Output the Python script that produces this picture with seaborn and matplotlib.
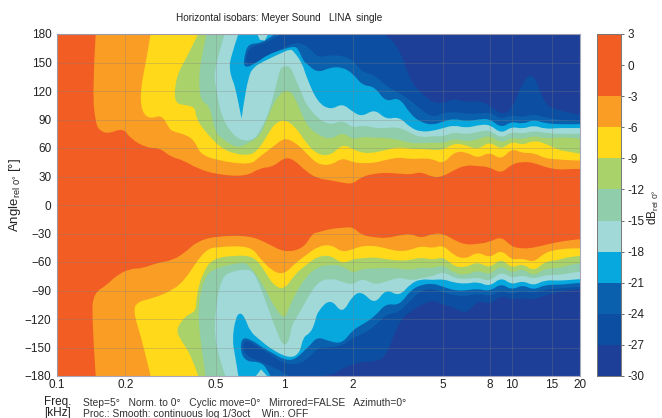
import matplotlib
matplotlib.use("Agg")
import matplotlib.pyplot as plt
from matplotlib.colors import ListedColormap
from matplotlib.patches import PathPatch
from matplotlib.path import Path
from matplotlib.ticker import NullLocator
import numpy as np
import seaborn as sns

# band colours, -30 dB up to +3 dB
BAND_COLORS = ["#1E3F97", "#0B4EA2", "#0B60AE", "#07A8DE", "#A0D9D8", "#8FCDAB",
               "#A9D26B", "#FFD91A", "#F99D25", "#F15D22", "#F15D22"]
BAND_MID = [1.5, -1.5, -4.5, -7.5, -10.5, -13.5, -16.5, -19.5, -22.5, -25.5, -28.5]
CBAR_TICKS = [3, 0, -3, -6, -9, -12, -15, -18, -21, -24, -27, -30]
X_TICKS = [0.1, 0.2, 0.5, 1, 2, 5, 8, 10, 15, 20]
X_LABELS = ["0.1", "0.2", "0.5", "1", "2", "5", "8", "10", "15", "20"]
Y_TICKS = list(range(-180, 181, 30))

# frequencies shared by all isobars above 1.3 kHz
F_HI = [1.4, 1.6, 1.8, 2, 2.2, 2.5, 2.8, 3.2, 3.6, 4, 4.5, 5, 5.6, 6.3, 7.1, 8, 9, 10,
        11.2, 12.5, 14, 16, 18, 20]

# upper half, isobar angle
UP3_F = [.148, .143, .148, .155, .168, .196, .21, .248, .284, .314, .36, .41, .503, .68, .78, .89, 1.0, 1.1, 1.25]
UP3_A = [180, 120, 85, 78, 75, 81, 70, 60, 60, 51, 47, 39, 32, 30, 39, 40, 50, 48, 35]
UP3_HI = [28, 26, 23.5, 22, 30, 33, 34, 33, 32, 35, 29, 30, 37, 42, 41, 40, 33, 43, 45.6, 44.5, 40, 37, 38, 38]

UP6_F = [.258, .248, .232, .236, .256, .29, .31, .325, .37, .405, .425, .503, .71, .78, .89, 1.0, 1.12, 1.25]
UP6_A = [180, 154, 120, 98, 90.5, 95, 81, 77, 74, 67, 54, 47, 42, 51, 61, 71, 65.7, 54.6]
UP6_HI = [42.8, 41.8, 49.6, 45, 43.8, 44.4, 47.5, 50.3, 48.2, 49, 48.5, 43, 56, 56, 49, 56, 47.4, 59.6, 54.4, 55, 49, 48, 47, 46.8]

UP9_F = [.418, .37, .345, .33, .33, .37, .405, .41, .44, .487, .53, .597, .71, .78, .86, .91, 1.0, 1.12, 1.25]
UP9_A = [180, 154, 142, 126, 107, 105, 103, 91, 80, 68, 60, 54, 52, 60, 77, 86, 90, 82.5, 65]
UP9_HI = [53, 52, 64, 59, 54.6, 55, 58, 61, 59, 59, 58, 58, 65, 63, 58, 67, 58, 67, 63, 68, 65, 58, 56, 54]

UP12_F = [.455, .43, .42, .43, .47, .495, .53, .617, .68, .78, .84, .9, .96, 1.0, 1.06, 1.12, 1.25]
UP12_A = [180, 154, 130, 109, 105, 77, 70, 60, 64, 72, 90, 108, 117, 120, 120, 112, 84]
UP12_HI = [74, 68.6, 77, 69, 71.8, 70.8, 70.8, 68.6, 65, 65, 65.7, 65, 70, 66.7, 69, 73.7, 65, 71, 69, 73, 70, 71, 71, 70]

UP15_F = [.548, .487, .503, .53, .58, .64, .73, .78, .86, .93, .96, 1.0, 1.06, 1.1, 1.21, 1.25]
UP15_A = [180, 144, 119, 93, 77, 68, 68, 77, 98, 130, 144, 146, 146, 137, 114, 106]
UP15_HI = [91, 84, 89.5, 81, 84, 81, 81, 82, 75.5, 71, 72.6, 72, 77, 74, 77, 79, 70, 77, 75, 78, 76, 75, 75, 75]

# the narrow spike near 0.65 kHz is listed twice to keep its tip
UP18_F = [.628, .577, .575, .59, .607, .649, .649, .66, .695, .731, .807, .97, 1.06, 1.1, 1.2, 1.25]
UP18_A = [180, 154, 142, 132, 125, 91, 91, 104, 135, 145, 151, 160, 164, 162, 149, 135]
UP18_HI = [108, 100, 107, 98, 93, 101, 90, 93, 81, 77, 78, 81, 84, 81, 84, 85, 75, 82.5, 80, 84, 80, 81, 81, 81]

UP21_F = [.91, .80, .70, .67, .66, .76, .84, .99, 1.1, 1.15, 1.21, 1.25]
UP21_A = [180, 170, 170, 160, 143, 150, 158, 164, 167, 165, 152, 149]
UP21_HI = [139, 145, 145, 138.6, 126, 124.6, 108, 114, 95, 87, 84, 88, 91, 88, 90, 91, 81, 88, 85, 90, 86, 85, 85, 85]

UP24_F = [.97, .85, .73, .68, .68, .78, .9, 1.0, 1.15, 1.3]
UP24_A = [180, 171, 168, 160, 146, 152, 160, 166, 172, 165]
UP24_HI = [155, 158, 157, 152.6, 140, 137, 125, 118, 110, 100, 92, 97, 98, 96, 96, 98, 90, 95, 92, 96, 92, 90, 89, 88]

UP27_HI = [180, 180, 180, 180, 180, 180, 180, 165, 130, 118, 108, 107, 112, 108, 110, 105, 95, 100, 130, 140, 105, 100, 97, 95]

# lower half
LO3_F = [.148, .142, .145, .166, .183, .21, .235, .275, .325, .37, .41, .49, .70, .84, 1.0, 1.21, 1.33]
LO3_A = [-180, -116, -93, -84, -74, -67, -67, -61, -58, -49, -39, -33, -32, -40, -50, -46, -30]
LO3_HI = [-29, -25, -24, -23, -32, -34, -35, -32, -30, -35, -30, -30, -37, -42, -41, -39, -33, -44, -46, -45, -42, -39, -37, -36]

LO6_F = [.258, .24, .216, .225, .2655, .325, .37, .41, .455, .503, .71, .78, .89, 1.0, 1.12, 1.25]
LO6_A = [-180, -147, -112, -102, -98, -89.5, -77, -60, -47, -44, -43, -56, -70, -73, -61, -52.6]
LO6_HI = [-43.8, -41.4, -49.8, -46.6, -43, -43, -45.6, -49, -47.3, -43, -45.6, -42, -53.7, -56.8, -49, -56, -46.7, -58, -56, -60.7, -50, -46.7, -45.6, -45.6]

LO9_F = [.418, .39, .345, .335, .37, .41, .41, .44, .487, .617, .73, .81, .89, 1.0, 1.12, 1.25]
LO9_A = [-180, -158, -140, -130, -116, -112, -95, -70, -56, -53, -54, -67, -84, -89.5, -72, -63]
LO9_HI = [-54, -53, -62, -57, -56, -55, -57, -58.6, -58, -55, -58, -54.4, -65, -65.6, -59.7, -66.7, -56, -66.7, -61.4, -70, -59.7, -58, -54.4, -53.7]

LO12_F = [.45, .43, .42, .42, .445, .487, .65, .70, .81, .89, 1.0, 1.04, 1.12, 1.25]
LO12_A = [-180, -147, -123, -102, -77, -67, -60, -63, -84, -105, -121, -110, -93, -75]
LO12_HI = [-65, -63, -64, -72, -67, -67, -66, -67, -68.4, -65.6, -66.7, -63, -72, -74, -68.4, -74, -63, -72, -66.7, -75.4, -66.7, -66.7, -63, -61.4]

LO15_F = [.55, .49, .50, .53, .58, .70, .75, .84, .93, 1.0, 1.06, 1.08, 1.14, 1.25]
LO15_A = [-180, -147, -105, -77, -70, -67, -74, -105, -135, -150, -140, -125, -118, -100]
LO15_HI = [-81, -77, -81, -84, -77, -84, -80.7, -76, -79.7, -77, -75, -70, -77, -78, -76, -80.7, -70, -77, -73.7, -78, -73.7, -73.7, -72, -70]

LO18_F = [.628, .607, .59, .61, .638, .67, .706, .78, .89, 1.06, 1.17, 1.21, 1.3, 1.36]
LO18_A = [-180, -158, -142, -119, -113, -118, -133, -142, -153, -161.5, -156, -139, -135, -125]
LO18_HI = [-112, -98, -115, -95, -91, -105, -88, -96.5, -82.5, -78, -79, -78, -81.8, -83, -80.7, -86, -76, -84, -79.7, -85, -79, -79.7, -79, -78]

LO21_F = [.867, .84, .78, .68, .64, .65, .72, .80, .89, 1.0, 1.11, 1.23, 1.3]
LO21_A = [-180, -172, -165, -165, -154, -139, -142, -150, -156, -163, -163, -153, -147.5]
LO21_HI = [-138.6, -144, -145.6, -131.6, -126, -117.5, -103.5, -106, -89.5, -84, -82.5, -86, -90, -90, -88, -91, -82.5, -89.5, -84, -89.5, -84, -84, -83, -82]

LO24_F = [1.05, .90, .72, .66, .66, .72, .80, .9, 1.0, 1.15, 1.3]
LO24_A = [-180, -170, -162, -155, -142, -145, -152, -160, -167, -168, -160]
LO24_HI = [-150, -150, -148, -140, -136, -128, -115, -113, -100, -90, -88, -92, -95, -96, -93, -96, -90, -94, -90, -93, -89, -88, -87, -86]

LO27_HI = [-180, -180, -172, -168, -165, -165, -160, -122, -112, -105, -100, -105, -108, -115, -100, -105, -95, -100, -98, -100, -95, -92, -90, -89]

# small lighter patches touching the top and bottom edge
BLOB_TOP_F = [.76, .78, .82, .85]
BLOB_TOP_A = [180, 174, 173, 180]
BLOB_LOW_F = [.75, .79, .84]
BLOB_LOW_A = [-180, -173, -180]

# outermost level first, each one painted over the previous
ISOBARS = [
    (1, [], [], UP27_HI, [], [], LO27_HI),
    (2, UP24_F, UP24_A, UP24_HI, LO24_F, LO24_A, LO24_HI),
    (3, UP21_F, UP21_A, UP21_HI, LO21_F, LO21_A, LO21_HI),
    (4, UP18_F, UP18_A, UP18_HI, LO18_F, LO18_A, LO18_HI),
    (5, UP15_F, UP15_A, UP15_HI, LO15_F, LO15_A, LO15_HI),
    (6, UP12_F, UP12_A, UP12_HI, LO12_F, LO12_A, LO12_HI),
    (7, UP9_F, UP9_A, UP9_HI, LO9_F, LO9_A, LO9_HI),
    (8, UP6_F, UP6_A, UP6_HI, LO6_F, LO6_A, LO6_HI),
    (9, UP3_F, UP3_A, UP3_HI, LO3_F, LO3_A, LO3_HI),
]


def rounded(xs, ys):
    """Quadratic curve through the midpoints, so the isobars are not angular."""
    lx = np.log10(xs)
    ys = np.array(ys, dtype=float)
    verts = [(xs[0], ys[0])]
    codes = [Path.LINETO]
    for i in range(1, len(xs) - 1):
        verts.append((xs[i], ys[i]))
        codes.append(Path.CURVE3)
        end = len(xs) - 2
        if i == end:
            verts.append((xs[-1], ys[-1]))
        else:
            verts.append((10 ** ((lx[i] + lx[i + 1]) / 2), (ys[i] + ys[i + 1]) / 2))
        codes.append(Path.CURVE3)
    return verts, codes


sns.set_theme(style="white")
plt.rcParams["font.family"] = ["Liberation Sans", "DejaVu Sans"]
plt.rcParams["mathtext.default"] = "regular"
palette = sns.color_palette(BAND_COLORS)

W, H = 662, 418
fig = plt.figure(figsize=(W / 100, H / 100), dpi=100)
ax = fig.add_axes([57 / W, 1 - 376 / H, 523 / W, 342 / H])
cax = fig.add_axes([597 / W, 1 - 376 / H, 24 / W, 342 / H])

ax.set_xscale("log")
ax.set_facecolor(palette[0])
ax.set_xlim(0.1, 20)
ax.set_ylim(-180, 180)

for idx, up_f, up_a, up_hi, lo_f, lo_a, lo_hi in ISOBARS:
    up_v, up_c = rounded(up_f + F_HI, up_a + up_hi)
    lo_v, lo_c = rounded((lo_f + F_HI)[::-1], (lo_a + lo_hi)[::-1])
    verts = [(0.1, 180)] + up_v + lo_v + [(0.1, -180), (0.1, 180)]
    codes = [Path.MOVETO] + up_c + lo_c + [Path.LINETO, Path.CLOSEPOLY]
    ax.add_patch(PathPatch(Path(verts, codes), facecolor=palette[idx], lw=0))

ax.fill(BLOB_TOP_F, BLOB_TOP_A, color=palette[4], lw=0)
ax.fill(BLOB_LOW_F, BLOB_LOW_A, color=palette[4], lw=0)

ax.set_xticks(X_TICKS)
ax.set_xticklabels(X_LABELS)
ax.xaxis.set_minor_locator(NullLocator())
ax.set_yticks(Y_TICKS)
ax.set_axisbelow(False)
ax.grid(True, color="#7f7f7f", alpha=0.3, lw=0.7)
ax.tick_params(axis="both", length=0, labelsize=8.5, colors="#222222")
ax.tick_params(axis="x", pad=2)
ax.tick_params(axis="y", pad=4)
for s in ax.spines.values():
    s.set_color("#a8a8bc")
    s.set_linewidth(0.8)
fig.text(15 / W, 1 - 195 / H, "Angle$_{rel\\ 0°}$ [°]", rotation=90, fontsize=9.5,
         color="#222222", ha="center", va="center")

# colour bar is one column heatmap
bands = np.array(BAND_MID).reshape(-1, 1)
sns.heatmap(bands, ax=cax, cbar=False, vmin=-30, vmax=3,
            cmap=ListedColormap(BAND_COLORS), xticklabels=False)
cax.yaxis.tick_right()
cax.set_yticks(np.arange(len(CBAR_TICKS)))
cax.set_yticklabels(CBAR_TICKS, rotation=0, fontsize=8.5, color="#222222")
cax.tick_params(axis="y", length=2.5, width=0.6, color="#555555", pad=2)
for s in cax.spines.values():
    s.set_visible(True)
    s.set_color("#777777")
    s.set_linewidth(0.7)
fig.text(653 / W, 1 - 207 / H, "dB$_{rel\\ 0°}$", rotation=90, fontsize=8.5,
         color="#222222", ha="center", va="center")

fig.text(279 / W, 1 - 18 / H, "Horizontal isobars: Meyer Sound   LINA  single", fontsize=7.2,
         color="#222222", ha="center", va="center")
fig.text(44 / W, 1 - 402 / H, "Freq.", fontsize=8.5, color="#222222", va="center")
fig.text(44 / W, 1 - 413 / H, "[kHz]", fontsize=8.5, color="#222222", va="center")
fig.text(83 / W, 1 - 403 / H, "Step=5°   Norm. to 0°   Cyclic move=0°   Mirrored=FALSE   Azimuth=0°",
         fontsize=7.35, color="#333333", va="center")
fig.text(83 / W, 1 - 414 / H, "Proc.: Smooth: continuous log 1/3oct    Win.: OFF",
         fontsize=7.35, color="#333333", va="center")

fig.savefig("out.png", dpi=100)
